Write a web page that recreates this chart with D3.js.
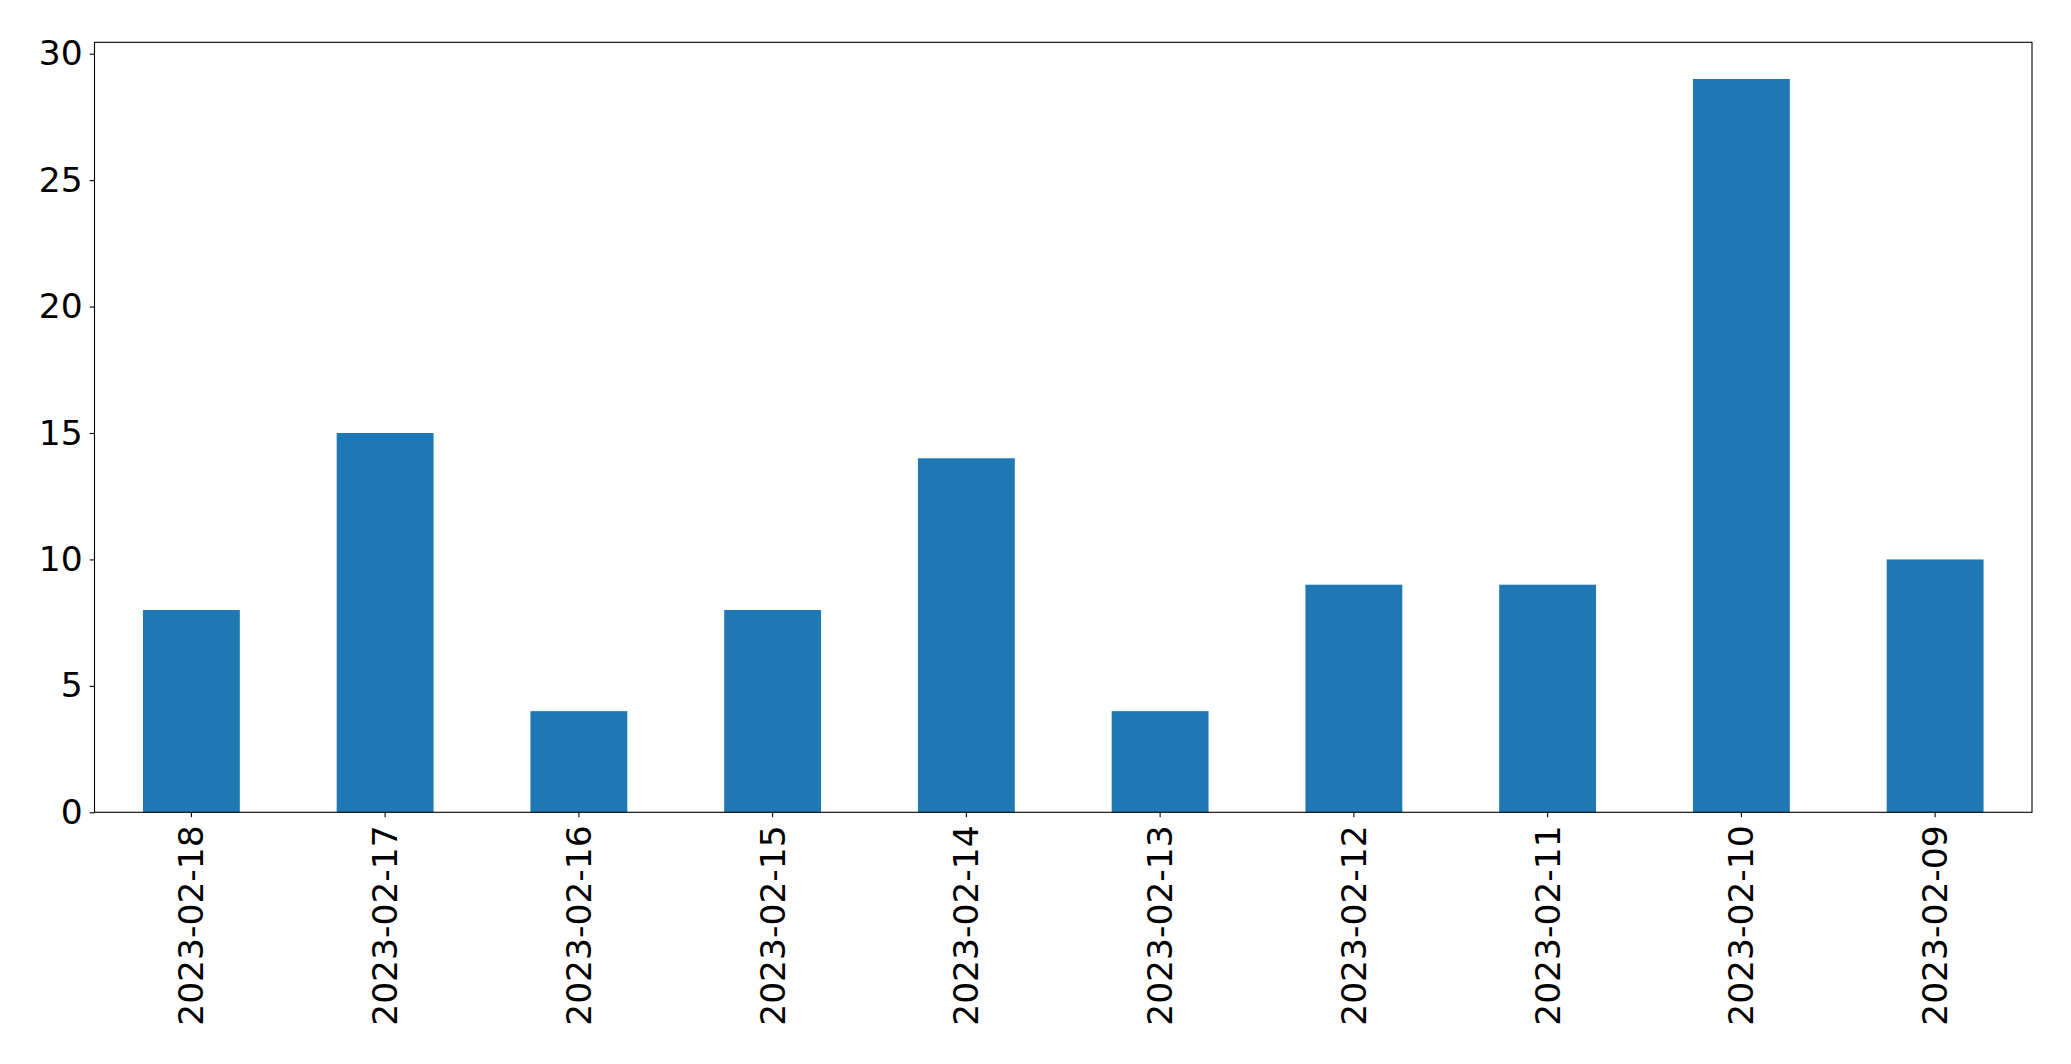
<!DOCTYPE html>
<html><head><meta charset="utf-8">
<script src="https://cdn.jsdelivr.net/npm/d3@7"></script>
<style>html,body{margin:0;padding:0;background:#fff;}</style>
</head><body>
<svg id="chart" width="2071" height="1064"></svg>
<script>
const categories = ["2023-02-18","2023-02-17","2023-02-16","2023-02-15","2023-02-14","2023-02-13","2023-02-12","2023-02-11","2023-02-10","2023-02-09"];
const values = [8,15,4,8,14,4,9,9,29,10];
const yTicks = [0,5,10,15,20,25,30];

(function () {
const svg = d3.select("#chart");
const mLeft = 94.5, mRight = 2032, mTop = 42.3, mBottom = 812.3;
const fontSize = 34.5;
const font = "'DejaVu Sans', sans-serif";

const x = d3.scaleBand().domain(categories).range([mLeft, mRight]).paddingInner(0.5).paddingOuter(0.25);
const y = d3.scaleLinear().domain([0, d3.max(values) * 1.05]).range([mBottom, mTop]);

svg.append("g").selectAll("rect").data(values).join("rect")
  .attr("x", (d, i) => x(categories[i]))
  .attr("y", d => y(d))
  .attr("width", x.bandwidth())
  .attr("height", d => y(0) - y(d))
  .attr("fill", "#1f77b4");

const xAxis = svg.append("g").attr("transform", `translate(0,${mBottom})`)
  .call(d3.axisBottom(x).tickSize(4.9).tickPadding(4.9));
xAxis.select(".domain").remove();
xAxis.selectAll("line").attr("stroke", "#000").attr("stroke-width", 1.1);
xAxis.selectAll("text")
  .attr("font-family", font).attr("font-size", fontSize).attr("fill", "#000")
  .attr("transform", "rotate(-90)")
  .attr("text-anchor", "end")
  .attr("x", -13).attr("y", 0).attr("dy", "0.35em");

const yAxis = svg.append("g").attr("transform", `translate(${mLeft},0)`)
  .call(d3.axisLeft(y).tickValues(yTicks).tickFormat(d3.format("d")).tickSize(4.9).tickPadding(7));
yAxis.select(".domain").remove();
yAxis.selectAll("line").attr("stroke", "#000").attr("stroke-width", 1.1);
yAxis.selectAll("text").attr("font-family", font).attr("font-size", fontSize).attr("fill", "#000");

svg.append("rect").attr("x", mLeft).attr("y", mTop).attr("width", mRight - mLeft).attr("height", mBottom - mTop)
  .attr("fill", "none").attr("stroke", "#000").attr("stroke-width", 1.1);
})();
</script>
</body></html>
